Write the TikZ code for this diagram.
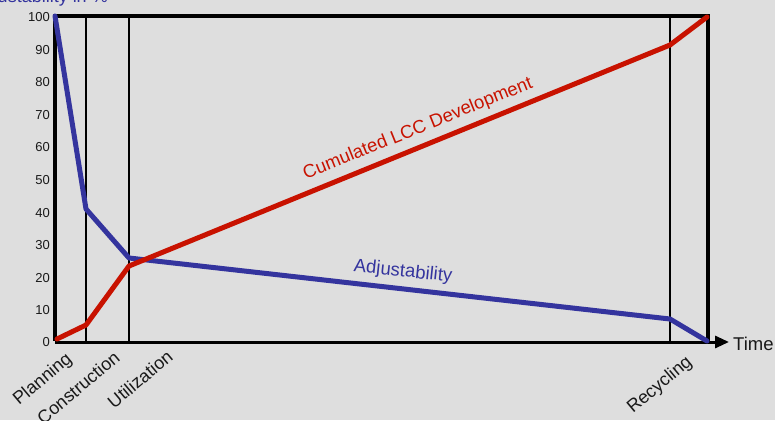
\documentclass[tikz,border=0pt]{standalone}
\usepackage{fontspec}
\setmainfont{Liberation Sans}
\usetikzlibrary{arrows.meta}
\definecolor{bgc}{RGB}{222,222,222}
\definecolor{lccred}{RGB}{200,18,0}
\definecolor{adjblue}{RGB}{52,52,158}
\definecolor{txt}{RGB}{25,25,25}
\tikzset{
  curve/.style={line width=5pt, line join=round, line cap=round},
  frameline/.style={line width=4pt, black},
  phase/.style={line width=1.4pt, black},
  tick/.style={anchor=east, inner sep=0pt, text=txt, font=\fontsize{13}{13}\selectfont},
  phaselabel/.style={anchor=east, inner sep=0pt, rotate=40, text=txt, font=\fontsize{18}{18}\selectfont},
}
\begin{document}
\begin{tikzpicture}[x=1pt,y=-1pt]
\useasboundingbox (0,0) rectangle (775,420);
\fill[bgc] (0,0) rectangle (775,420);
\begin{scope}
\clip (0,0) rectangle (775,420);
\node[anchor=base east, inner sep=0pt, text=adjblue, font=\fontsize{18}{18}\selectfont] (ylabel) at (108,3) {Adjustability in \%};
\end{scope}
% coordinates
\coordinate (tl) at (55,16);
\coordinate (tr) at (708,16);
\coordinate (bl) at (55,342);
\coordinate (br) at (708,342);
\coordinate (xend) at (729,342);
% phase lines
\coordinate (p1t) at (86,16); \coordinate (p1b) at (86,342);
\coordinate (p2t) at (129,16); \coordinate (p2b) at (129,342);
\coordinate (p3t) at (670,16); \coordinate (p3b) at (670,342);
\draw[phase] (p1t) -- (p1b);
\draw[phase] (p2t) -- (p2b);
\draw[phase] (p3t) -- (p3b);
% frame
\draw[frameline] ([xshift=-2pt]tl) -- ([xshift=2pt]tr);
\draw[frameline] (tr) -- (br);
\draw[line width=3pt, black, -{Triangle[length=14pt,width=12pt]}] (bl) -- (xend);
\draw[frameline] ([yshift=-2pt]tl) -- ([yshift=1.5pt]bl);
% curves
\coordinate (b0) at (55,16);
\coordinate (b1) at (86,209);
\coordinate (b2) at (129,258);
\coordinate (b3) at (670,319);
\coordinate (b4) at (707,341);
\coordinate (r0) at (57,339);
\coordinate (r1) at (86,325);
\coordinate (r2) at (129,266);
\coordinate (r3) at (670,45);
\coordinate (r4) at (707,17);
\draw[curve, adjblue] (b0) -- (b1) -- (b2) -- (b3) -- (b4);
\draw[curve, lccred] (r0) -- (r1) -- (r2) -- (r3) -- (r4);
% y ticks
\node[tick] (t100) at (50,17) {100};
\node[tick] (t90) at (50,49.6) {90};
\node[tick] (t80) at (50,82.2) {80};
\node[tick] (t70) at (50,114.8) {70};
\node[tick] (t60) at (50,147.4) {60};
\node[tick] (t50) at (50,180) {50};
\node[tick] (t40) at (50,212.6) {40};
\node[tick] (t30) at (50,245.2) {30};
\node[tick] (t20) at (50,277.8) {20};
\node[tick] (t10) at (50,310.4) {10};
\node[tick] (t0) at (50,342) {0};
% labels
\node[anchor=west, inner sep=0pt, text=txt, font=\fontsize{18.5}{18.5}\selectfont] (time) at (733,343.5) {Time};
\node[phaselabel] (plan) at (70,357) {Planning};
\node[phaselabel] (cons) at (117,355) {Construction};
\node[phaselabel] (util) at (170,354) {Utilization};
\node[phaselabel] (recy) at (690,360) {Recycling};
\node[inner sep=0pt, rotate=22, text=lccred, font=\fontsize{18.5}{18.5}\selectfont] (lcc) at (418,129) {Cumulated LCC Development};
\node[inner sep=0pt, rotate=-6, text=adjblue, font=\fontsize{18.5}{18.5}\selectfont] (adj) at (403,272) {Adjustability};
\end{tikzpicture}
\end{document}
